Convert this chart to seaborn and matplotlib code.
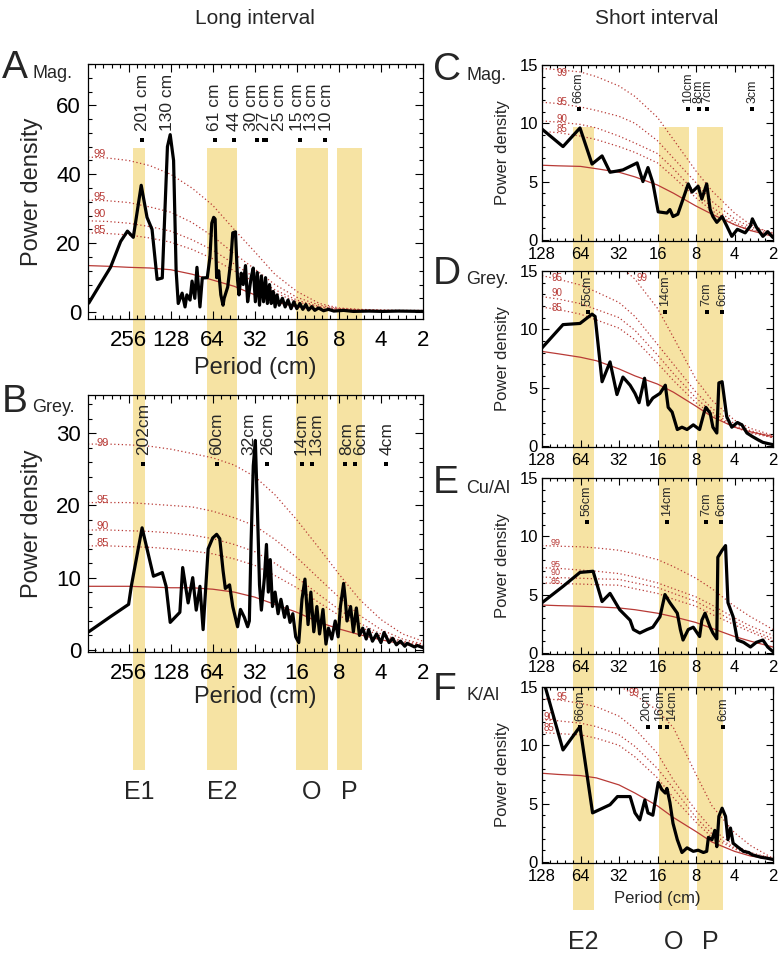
import numpy as np
import pandas as pd
import matplotlib
matplotlib.use("Agg")
import matplotlib.pyplot as plt
import matplotlib.transforms as mtransforms
from matplotlib.patches import Rectangle
from matplotlib.ticker import FixedLocator, FixedFormatter, MultipleLocator, NullFormatter
import seaborn as sns

sns.set_theme(style="ticks")
plt.rcParams["font.family"] = ["Liberation Sans", "DejaVu Sans"]

RED = "#b83a36"
BAND = "#f6e3a3"

# ---------------- long interval (A, B) ----------------
long_grid = [500, 360, 256, 180, 128, 90, 64, 45, 32, 23, 16, 11, 8, 5.7, 4, 2.8, 2]

a_red = [13.5, 13.3, 13.0, 12.8, 12.3, 11.0, 9.3, 7.5, 5.0, 3.0, 1.5, 0.8, 0.5, 0.4, 0.3, 0.3, 0.3]
a_c99 = [45, 44.7, 44, 42.5, 40, 36, 31, 24, 17.5, 11, 6, 2.5, 1.2, 0.8, 0.6, 0.5, 0.5]
a_c95 = [32.5, 32.3, 31.8, 30.5, 29, 26, 22, 17, 12.5, 8, 4.3, 2, 1, 0.7, 0.5, 0.4, 0.4]
a_c90 = [26.5, 26.3, 25.8, 24.8, 23.5, 21, 18, 14, 10, 6.5, 3.5, 1.6, 0.9, 0.6, 0.5, 0.4, 0.4]
a_c85 = [23, 22.8, 22.4, 21.5, 20.3, 18.2, 15.5, 12, 8.7, 5.6, 3, 1.4, 0.8, 0.6, 0.5, 0.4, 0.4]

a_period = [494, 406, 345, 292, 261, 237, 208, 189, 174, 160,
            147, 135, 129, 122, 117, 113, 106, 101, 98, 93,
            90, 86, 83, 79, 76, 70, 67, 65, 63, 61.5,
            60, 58, 56, 54, 53, 50, 47.5, 46, 44, 42.5,
            41.5, 40, 38.7, 37.3, 36, 35, 34, 32.8, 31.7, 30.7,
            29.6, 28.7, 27.7, 26.8, 26, 25.1, 24.4, 23.6, 22.9, 22.2,
            21.4, 20.3, 19.4, 18.5, 17.6, 16.8, 16.0, 15.2, 14.5, 13.8,
            13.2, 12.5, 11.9, 11.2, 10.3, 9.5, 8.7, 7.4, 6.3, 4.9,
            3.9, 3.0, 2.0]
a_power = [2.6, 8.3, 13, 20.5, 23.5, 21.7, 36.8, 27.5, 24.0, 9.5,
           9.9, 48, 51.5, 44, 12, 2.5, 5.5, 1.5, 5, 3.5,
           9, 4, 13, 1.5, 9.9, 10, 16, 25.8, 27.5, 27,
           10, 12, 5, 2, 4, 7.3, 15, 23, 23.3, 9.3,
           5, 11.3, 8, 13.5, 3, 6.4, 10, 12.8, 3, 11.5,
           2, 10.5, 3, 10, 2.5, 8, 2.5, 6, 1.5, 5,
           2, 4, 1.5, 3.5, 1, 3, 1, 2.5, 0.8, 2.2,
           0.6, 1.6, 0.5, 1.2, 0.4, 0.8, 0.3, 0.5, 0.2, 0.3,
           0.2, 0.3, 0.2]

b_red = [8.8, 8.8, 8.8, 8.7, 8.6, 8.6, 8.4, 8.0, 7.3, 6.3, 5.2, 3.8, 2.9, 2.1, 1.4, 0.8, 0.4]
b_c99 = [28.5, 28.5, 28.4, 28.2, 27.8, 27.2, 26.6, 25.6, 24, 21.5, 18, 14, 10.5, 7, 4.2, 2.2, 1.2]
b_c95 = [20.4, 20.4, 20.4, 20.2, 20, 19.8, 19.2, 18.3, 17.2, 15.3, 12.8, 9.8, 7.3, 4.8, 2.8, 1.5, 0.8]
b_c90 = [16.6, 16.6, 16.5, 16.4, 16.2, 15.9, 15.4, 14.6, 13.6, 12, 10, 7.6, 5.6, 3.7, 2.2, 1.2, 0.7]
b_c85 = [14.4, 14.4, 14.3, 14.2, 14.0, 13.7, 13.3, 12.6, 11.7, 10.3, 8.6, 6.5, 4.8, 3.2, 1.9, 1.0, 0.6]

b_period = [494, 345, 256, 245, 205, 170, 147, 138, 129, 110,
            105, 96, 89, 84, 79, 75, 69, 64, 60, 57,
            54, 52, 48.5, 46, 42.5, 40.5, 38, 36, 35, 34,
            32.8, 31.7, 30.7, 29.6, 28.7, 27.3, 26.4, 25.6, 24.8, 23.9,
            22.9, 21.8, 20.8, 19.6, 18.8, 17.9, 17.1, 16.3, 15.5, 14.7,
            14.0, 13.3, 12.7, 12.1, 11.5, 11.0, 10.4, 9.9, 9.5, 9.0,
            8.5, 8.1, 7.8, 7.4, 7.2, 7.0, 6.6, 6.3, 6.0, 5.7,
            5.4, 5.1, 4.9, 4.6, 4.3, 4.0, 3.8, 3.5, 3.3, 3.1,
            2.9, 2.7, 2.6, 2.3, 2.2, 2.0]
b_power = [2.5, 4.6, 6.3, 8.8, 16.9, 10.2, 10.7, 8.8, 3.8, 5.2,
           11.4, 6.5, 10, 5.5, 8.8, 2.8, 14, 15.5, 16, 15.4,
           11, 8.5, 9, 6, 3.2, 5.6, 4.5, 3.2, 4, 15,
           25.5, 29, 20, 9, 5.5, 10, 14.6, 8, 12.5, 6,
           8, 5, 7, 4.5, 6, 3.8, 5, 1.8, 1.0, 7,
           9.8, 3.5, 8, 2.5, 6, 2.2, 5.6, 0.8, 3, 1.5,
           4, 1.8, 6, 9.2, 7, 4, 6, 2.5, 5.8, 2,
           3, 1.5, 2.8, 1.2, 2.2, 1, 2.4, 1, 1.6, 0.7,
           1.2, 0.5, 0.9, 0.4, 0.6, 0.3]

# ---------------- short interval (C-F) ----------------
short_grid = [128, 96, 64, 48, 32, 24, 16, 12, 8, 6, 4, 3, 2]

c_red = [6.4, 6.35, 6.3, 6.1, 5.8, 5.4, 4.7, 4.0, 2.9, 2.2, 1.3, 0.8, 0.3]
c_c99 = [14.7, 14.6, 14.4, 14.0, 13.2, 12.3, 10.5, 8.6, 5.9, 4.2, 2.3, 1.3, 0.5]
c_c95 = [11.8, 11.7, 11.4, 11.1, 10.6, 10.0, 8.5, 7.0, 4.9, 3.3, 1.8, 1.1, 0.6]
c_c90 = [10.2, 10.1, 9.9, 9.6, 8.9, 8.3, 7.4, 6.1, 4.0, 2.8, 1.5, 0.9, 0.5]
c_c85 = [9.3, 9.2, 8.9, 8.6, 8.0, 7.5, 6.6, 5.4, 3.6, 2.5, 1.3, 0.8, 0.4]
c_period = [128, 87.7, 64.6, 52, 43.4, 37.6, 33.2, 29.8, 23.1, 20.8,
            19.0, 17.4, 15.8, 13.5, 12.8, 12.1, 11.1, 10.1, 9.2, 8.6,
            7.7, 7.2, 6.6, 6.2, 5.9, 5.5, 5.0, 4.6, 4.2, 3.8,
            3.3, 3.0, 2.9, 2.7, 2.4, 2.2, 2.0]
c_power = [9.5, 8.0, 9.6, 6.5, 7.2, 5.8, 5.9, 6.0, 6.6, 5.0,
           6.2, 4.9, 2.4, 2.3, 2.6, 2.0, 2.2, 3.5, 4.8, 4.1,
           4.6, 3.5, 4.8, 2.6, 2.0, 1.5, 2.0, 1.2, 0.3, 0.9,
           0.6, 1.2, 1.8, 1.1, 0.3, 0.7, 0.2]

d_red = [8.1, 7.9, 7.6, 7.3, 6.6, 6.0, 5.3, 4.6, 3.4, 2.5, 1.6, 1.2, 0.8]
d_c99 = [20, 19.7, 19, 18, 15.5, 14.3, 11.8, 9.3, 5.7, 3.9, 2.2, 1.5, 0.9]
d_c95 = [14.6, 14.3, 13.8, 13.2, 12.3, 11.1, 8.7, 7.0, 4.6, 3.2, 1.9, 1.3, 0.8]
d_c90 = [12.8, 12.6, 12.2, 11.7, 11.0, 9.9, 7.8, 6.2, 4.1, 2.9, 1.7, 1.2, 0.7]
d_c85 = [11.9, 11.7, 11.3, 10.8, 10.1, 9.1, 7.1, 5.6, 3.7, 2.7, 1.6, 1.1, 0.7]
d_period = [128, 87.7, 64.6, 52, 49.2, 43.4, 37.6, 33.2, 29.8, 26.2,
            24, 22.3, 20.2, 19.0, 17.4, 15.3, 13.9, 13.2, 12.3, 11.2,
            10.3, 9.4, 8.4, 7.5, 6.9, 6.7, 6.2, 5.9, 5.5, 5.3,
            5.0, 4.6, 4.2, 3.8, 3.5, 3.2, 2.9, 2.6, 2.4, 2.2, 2.0]
d_power = [8.4, 10.4, 10.5, 11.3, 11.1, 5.5, 7.2, 4.4, 5.9, 5.2,
           4.5, 3.7, 5.8, 3.5, 4.1, 4.5, 5.2, 3.3, 2.9, 1.4,
           1.6, 1.4, 1.8, 1.4, 2.9, 3.3, 2.8, 1.6, 1.1, 5.4,
           5.5, 2.5, 1.6, 2.0, 1.8, 1.1, 0.8, 0.5, 0.3, 0.2, 0.1]

e_red = [4.1, 4.05, 4.0, 3.95, 3.85, 3.7, 3.4, 3.1, 2.6, 2.1, 1.4, 1.0, 0.5]
e_c99 = [9.2, 9.15, 9.1, 9.0, 8.8, 8.5, 8.0, 7.4, 6.4, 5.5, 4.0, 3.1, 2.0]
e_c95 = [7.3, 7.25, 7.1, 7.0, 6.8, 6.5, 6.0, 5.5, 4.8, 4.1, 3.0, 2.3, 1.5]
e_c90 = [6.5, 6.45, 6.4, 6.35, 6.3, 6.0, 5.6, 5.1, 4.4, 3.7, 2.7, 2.0, 1.2]
e_c85 = [6.0, 5.95, 5.9, 5.85, 5.8, 5.5, 5.1, 4.6, 4.0, 3.3, 2.4, 1.8, 1.0]
e_period = [128, 87.7, 64.6, 51, 43.4, 37.6, 31.6, 26.2, 24.7, 22.0,
            19.3, 17.4, 15.3, 14.0, 12.8, 11.2, 10.6, 10.1, 9.2, 8.4,
            7.5, 7.2, 6.8, 6.2, 5.9, 5.5, 5.4, 5.0, 4.7, 4.5,
            4.1, 3.8, 3.4, 3.0, 2.7, 2.4, 2.2, 2.0]
e_power = [4.3, 5.7, 6.9, 7.0, 4.4, 5.1, 3.7, 2.8, 2.0, 1.7,
           2.0, 2.2, 3.1, 5.0, 4.3, 3.4, 2.0, 1.1, 2.0, 2.2,
           1.4, 2.8, 3.4, 2.2, 1.7, 1.2, 8.2, 8.8, 9.2, 4.3,
           3.1, 1.1, 0.9, 0.5, 0.9, 1.1, 0.5, 0.1]

f_red = [7.6, 7.5, 7.4, 7.2, 6.6, 5.9, 4.8, 3.8, 2.6, 1.7, 0.9, 0.5, 0.2]
f_c99 = [20, 19.5, 18.8, 17.8, 15.1, 14.3, 13.0, 11.5, 7.5, 4.8, 2.5, 1.4, 0.3]
f_c95 = [14.0, 13.9, 13.6, 13.3, 12.5, 11.4, 9.3, 7.0, 4.4, 2.8, 1.4, 0.8, 0.3]
f_c90 = [12.2, 12.1, 11.9, 11.6, 10.9, 9.9, 8.0, 6.3, 3.8, 2.4, 1.2, 0.7, 0.3]
f_c85 = [11.1, 11.0, 10.9, 10.6, 10.0, 9.0, 7.2, 5.5, 3.4, 2.1, 1.1, 0.6, 0.2]
f_period = [128, 87.7, 64.6, 51.5, 37.6, 32.9, 26.2, 24, 22, 20.1,
            19.0, 17.4, 15.8, 14.8, 13.9, 13.5, 12.8, 12.1, 11.2, 10.3,
            9.4, 8.4, 7.7, 7.0, 6.6, 6.4, 6.0, 5.7, 5.5, 5.3,
            5.0, 4.7, 4.5, 4.3, 4.1, 3.8, 3.4, 3.1, 2.9, 2.5, 2.2, 2.0]
f_power = [16.0, 9.6, 11.6, 4.2, 4.9, 5.6, 5.6, 4.2, 3.6, 5.3,
           4.2, 4.0, 6.8, 6.2, 5.9, 6.3, 5.1, 3.3, 1.9, 0.8,
           1.2, 0.9, 1.0, 0.8, 0.9, 2.1, 1.9, 2.7, 1.3, 3.9,
           4.6, 3.9, 1.9, 2.9, 1.6, 1.3, 0.9, 0.8, 0.6, 0.4, 0.3, 0.2]

# peak labels: text strings, where the text sits, where the square marks sit
a_labels = ["201 cm", "130 cm", "61 cm", "44 cm", "30 cm", "27 cm", "25 cm", "15 cm", "13 cm", "10 cm"]
a_label_at = [205, 134, 62, 45, 33.6, 27.3, 21.4, 15.7, 12.5, 9.8]
a_mark_at = [205, 62, 45.4, 30.7, 27.3, 26.4, 15.2, 10.1]
b_labels = ["202cm", "60cm", "32cm", "26cm", "14cm", "13cm", "8cm", "6cm", "4cm"]
b_label_at = [201, 60, 35, 26, 15.0, 11.7, 7.0, 5.6, 3.6]
b_mark_at = [202, 60, 26, 14.6, 12.5, 7.2, 6.1, 3.7]
c_labels = ["66cm", "10cm", "8cm", "7cm", "3cm"]
c_label_at = [66, 9.3, 7.6, 6.5, 2.9]
c_mark_at = [66, 9.2, 7.6, 6.6, 2.9]
d_labels = ["55cm", "14cm", "7cm", "6cm"]
d_label_at = [56, 14, 6.6, 5.0]
d_mark_at = [56, 14, 6.6, 5.0]
e_labels = ["56cm", "14cm", "7cm", "6cm"]
e_label_at = [57, 13.5, 6.7, 5.1]
e_mark_at = [57, 13.5, 6.7, 5.1]
f_labels = ["66cm", "20cm", "16cm", "14cm", "6cm"]
f_label_at = [64.6, 19.5, 15.3, 12.2, 4.9]
f_mark_at = [64.6, 19, 15.3, 13.5, 4.9]

# confidence level labels (99, 95, 90, 85): period and level where each sits
conf_names = ["99", "95", "90", "85"]
a_conf_at, a_conf_y = [413] * 4, [46, 33.3, 28.4, 23.8]
b_conf_at, b_conf_y = [393] * 4, [28.6, 20.8, 17.2, 14.8]
c_conf_at, c_conf_y = [90] * 4, [14.3, 11.8, 10.4, 9.5]
d_conf_at, d_conf_y = [21, 98, 98, 98], [14.4, 14.4, 13.1, 11.8]
e_conf_at, e_conf_y = [101] * 4, [9.5, 7.6, 6.9, 6.1]
f_conf_at, f_conf_y = [24.5, 89, 113, 113], [14.5, 14.1, 12.4, 11.5]

long_bands = {"E1": (194, 237), "E2": (43, 70), "O": (9.6, 16.2), "P": (5.5, 8.2)}
short_bands = {"E2": (50, 73), "O": (9.1, 15.6), "P": (4.9, 7.8)}

W, H = 780, 959
fig = plt.figure(figsize=(7.8, 9.59), dpi=100)


def px_axes(x0, y0, x1, y1):
    return fig.add_axes([x0 / W, 1 - y1 / H, (x1 - x0) / W, (y1 - y0) / H])


def style_axis(ax, xlim, xticks, ylim, ymaj, ymin, fs, xpad, ypad, mlen):
    ax.set_xlim(xlim)
    ax.set_ylim(ylim)
    ax.xaxis.set_major_locator(FixedLocator(xticks))
    ax.xaxis.set_major_formatter(FixedFormatter([str(t) for t in xticks]))
    minors = [2 ** (k + j / 5) for k in range(1, 9) for j in range(1, 5)]
    ax.xaxis.set_minor_locator(FixedLocator(minors))
    ax.xaxis.set_minor_formatter(NullFormatter())
    ax.yaxis.set_major_locator(MultipleLocator(ymaj))
    ax.yaxis.set_minor_locator(MultipleLocator(ymin))
    ax.tick_params(which="both", direction="in", top=True, right=True,
                   width=0.8, color="black", labelcolor="black")
    ax.tick_params(which="major", length=mlen)
    ax.tick_params(which="minor", length=mlen / 2)
    ax.tick_params(axis="x", labelsize=fs, pad=xpad)
    ax.tick_params(axis="y", labelsize=fs, pad=ypad)
    ax.set_facecolor("none")
    for s in ax.spines.values():
        s.set_linewidth(0.9)
        s.set_color("black")
    ax.set_xlabel("")
    ax.set_ylabel("")


def draw_panel(ax, grid, red, confs, conf_at, conf_y, conf_fs, period, power,
               labels, label_at, mark_at, mark_y, text_y, lab_fs):
    ax.set_xscale("log", base=2)
    sns.lineplot(x=grid, y=red, ax=ax, color=RED, linewidth=0.9, estimator=None, sort=False, zorder=2)
    for vals in confs:
        sns.lineplot(x=grid, y=vals, ax=ax, color=RED, linewidth=0.9, linestyle=(0, (1, 2)),
                     estimator=None, sort=False, zorder=2)
    for name, at, yv in zip(conf_names, conf_at, conf_y):
        ax.text(at, yv, name, color=RED, fontsize=conf_fs, ha="center", va="center", zorder=3)
    df = pd.DataFrame({"period": period, "power": power})
    sns.lineplot(data=df, x="period", y="power", ax=ax, color="black", linewidth=2.3,
                 estimator=None, sort=False, zorder=4)
    sns.scatterplot(x=mark_at, y=[mark_y] * len(mark_at), ax=ax, marker="s", s=8,
                    color="black", linewidth=0, zorder=5)
    for lab, at in zip(labels, label_at):
        ax.text(at, text_y, lab, rotation=90, ha="center", va="bottom", fontsize=lab_fs, zorder=5)


axA = px_axes(88, 64, 423, 319)
axB = px_axes(88, 395, 423, 652)
axC = px_axes(542, 65, 773, 241)
axD = px_axes(542, 271, 773, 447)
axE = px_axes(542, 478, 773, 654)
axF = px_axes(542, 687, 773, 863)

long_ticks = [256, 128, 64, 32, 16, 8, 4, 2]
short_ticks = [128, 64, 32, 16, 8, 4, 2]

draw_panel(axA, long_grid, a_red, [a_c99, a_c95, a_c90, a_c85], a_conf_at, a_conf_y, 8,
           a_period, a_power, a_labels, a_label_at, a_mark_at, 50, 52.6, 12.5)
draw_panel(axB, long_grid, b_red, [b_c99, b_c95, b_c90, b_c85], b_conf_at, b_conf_y, 8,
           b_period, b_power, b_labels, b_label_at, b_mark_at, 25.8, 27.0, 12.5)
draw_panel(axC, short_grid, c_red, [c_c99, c_c95, c_c90, c_c85], c_conf_at, c_conf_y, 7,
           c_period, c_power, c_labels, c_label_at, c_mark_at, 11.2, 11.7, 9)
draw_panel(axD, short_grid, d_red, [d_c99, d_c95, d_c90, d_c85], d_conf_at, d_conf_y, 7,
           d_period, d_power, d_labels, d_label_at, d_mark_at, 11.5, 12.0, 9)
draw_panel(axE, short_grid, e_red, [e_c99, e_c95, e_c90, e_c85], e_conf_at, e_conf_y, 6.5,
           e_period, e_power, e_labels, e_label_at, e_mark_at, 11.2, 11.7, 9)
draw_panel(axF, short_grid, f_red, [f_c99, f_c95, f_c90, f_c85], f_conf_at, f_conf_y, 7,
           f_period, f_power, f_labels, f_label_at, f_mark_at, 11.6, 12.1, 9)

style_axis(axA, (500, 2), long_ticks, (-2, 72), 20, 4, 16, 8, 5, 6)
style_axis(axB, (500, 2), long_ticks, (-0.3, 35.3), 10, 2, 16, 8, 5, 6)
for ax in (axC, axD, axE, axF):
    style_axis(ax, (128, 2), short_ticks, (-0.1, 15), 5, 1, 12, 4, 3, 5)

for ax in (axA, axB):
    ax.set_ylabel("Power density", fontsize=17)
    ax.yaxis.set_label_coords(-0.167, 0.5)
    ax.yaxis.label.set_verticalalignment("center")
for ax in (axC, axD, axE, axF):
    ax.set_ylabel("Power density", fontsize=12)
    ax.yaxis.set_label_coords(-0.173, 0.5)
    ax.yaxis.label.set_verticalalignment("center")
for ax, y in ((axA, -0.192), (axB, -0.175)):
    ax.set_xlabel("Period (cm)", fontsize=17)
    ax.xaxis.set_label_coords(0.5, y)
    ax.xaxis.label.set_verticalalignment("center")
axF.set_xlabel("Period (cm)", fontsize=12)
axF.xaxis.set_label_coords(0.5, -0.2)
axF.xaxis.label.set_verticalalignment("center")


# shaded bands running through each whole column
def add_bands(ax, bands, y_top, y_bot, y_lab):
    trans = mtransforms.blended_transform_factory(ax.transData, fig.transFigure)
    for name, (lo, hi) in bands.items():
        rect = Rectangle((lo, 1 - y_bot / H), hi - lo, (y_bot - y_top) / H,
                         transform=trans, facecolor=BAND, edgecolor="none", zorder=-5)
        fig.add_artist(rect)
        ax.text(np.sqrt(lo * hi), 1 - y_lab / H, name, transform=trans, ha="center",
                va="center", fontsize=18, clip_on=False)


add_bands(axA, long_bands, 148, 770, 792)
add_bands(axC, short_bands, 127, 910, 942)


def fig_text(x, y, s, size, **kw):
    fig.text(x / W, 1 - y / H, s, fontsize=size, va="baseline", **kw)


for letter, name, x, y, nx in (("A", "Mag.", 2, 78, 32), ("B", "Grey.", 2, 412, 32),
                               ("C", "Mag.", 433, 80, 466), ("D", "Grey.", 433, 284, 466),
                               ("E", "Cu/Al", 433, 493, 466), ("F", "K/Al", 433, 700, 466)):
    fig_text(x, y, letter, 28)
    fig_text(nx, y, name, 13)

fig.text(255 / W, 1 - 18 / H, "Long interval", fontsize=15, ha="center", va="center")
fig.text(657 / W, 1 - 18 / H, "Short interval", fontsize=15, ha="center", va="center")

fig.savefig("out.png", dpi=100)
